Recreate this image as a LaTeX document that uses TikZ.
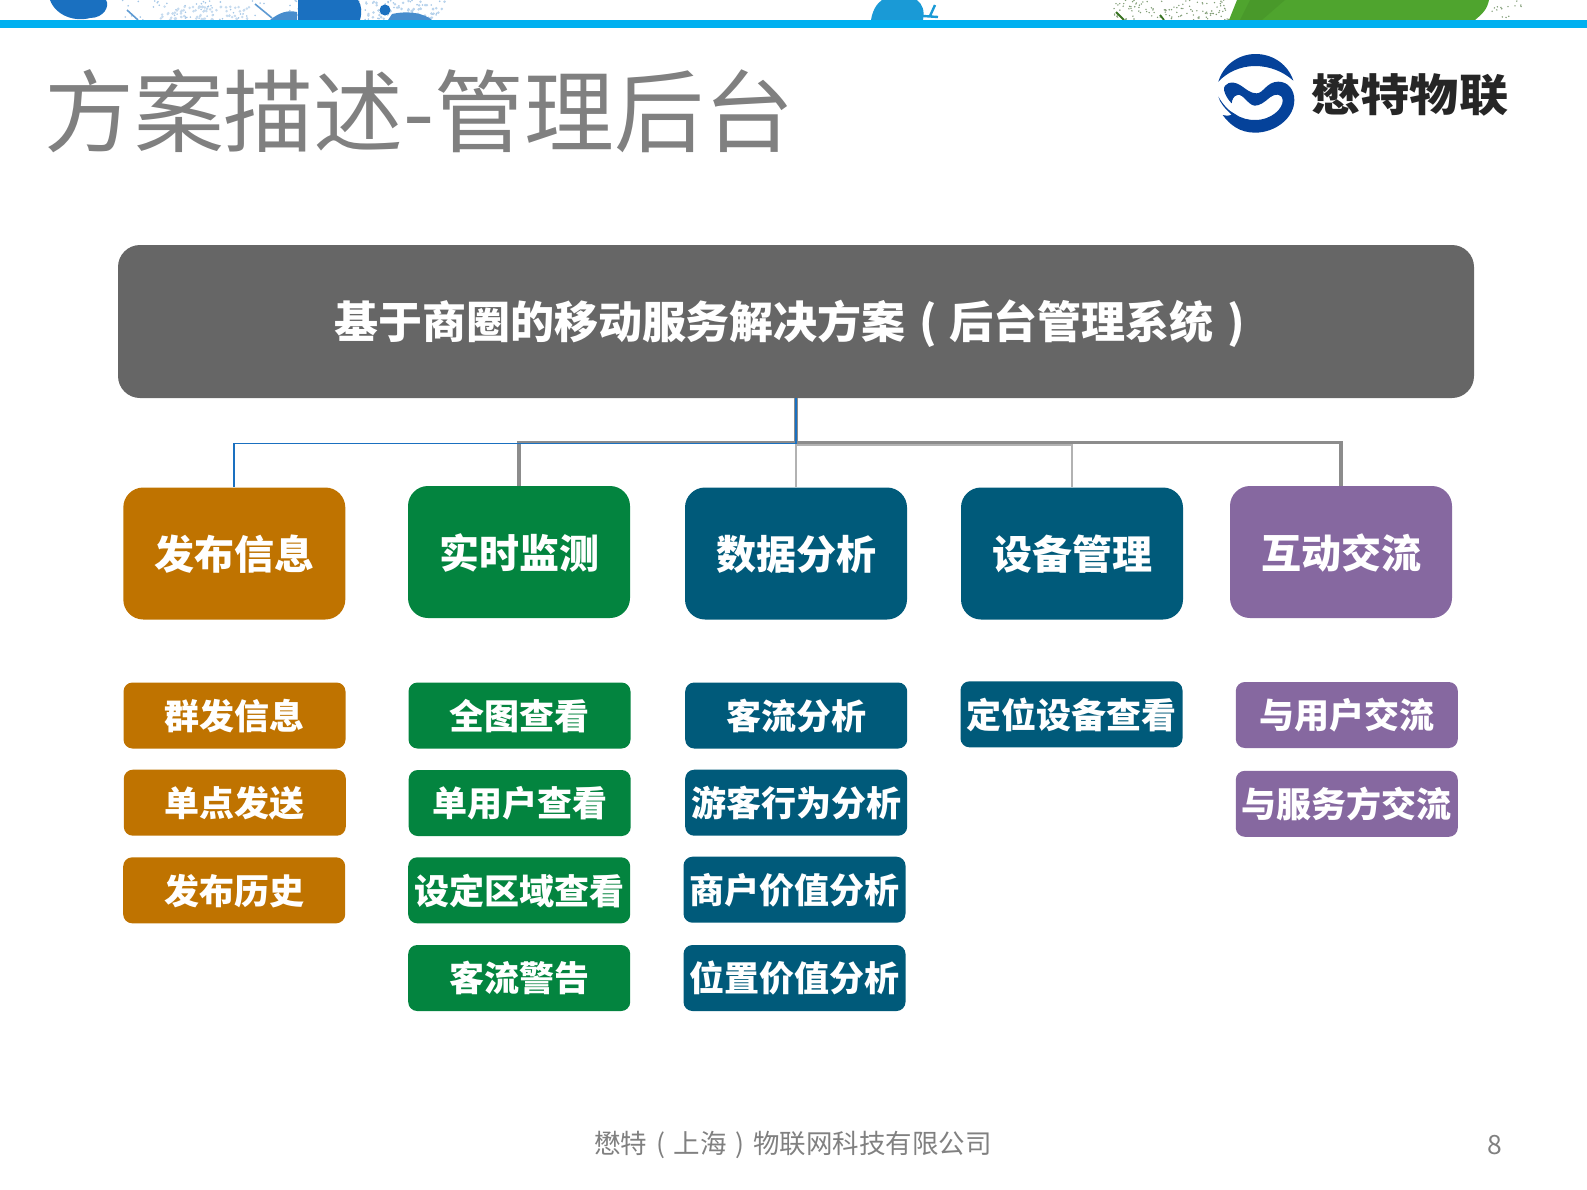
\documentclass[tikz,border=0pt]{standalone}
\usepackage{fontspec}
\setmainfont{Noto Sans CJK SC}
\usepackage{tikz}
\definecolor{barblue}{HTML}{00B0F0}
\definecolor{inkblue}{HTML}{1A70C0}
\definecolor{skyblue}{HTML}{1A9AD6}
\definecolor{leafgreen}{HTML}{4FA42E}
\definecolor{logoblue}{HTML}{05429A}
\definecolor{rootgrey}{HTML}{666666}
\definecolor{boxorange}{HTML}{BF7300}
\definecolor{boxgreen}{HTML}{03843F}
\definecolor{boxteal}{HTML}{005A7A}
\definecolor{boxpurple}{HTML}{8668A0}
\newcommand{\lparen}{\makebox[1em][c]{(}}
\newcommand{\rparen}{\makebox[1em][c]{)}}
\tikzset{
  rootbox/.style={fill=rootgrey,rounded corners=11pt,minimum width=678pt,minimum height=76.5pt,inner sep=0pt,text=white,text height=19.4pt,text depth=2.6pt,font=\bfseries\fontsize{22}{26}\selectfont},
  mainbox/.style={fill=#1,rounded corners=10pt,minimum width=111pt,minimum height=66pt,inner sep=0pt,text=white,text height=18.4pt,text depth=2.4pt,font=\bfseries\fontsize{20}{24}\selectfont},
  subbox/.style={fill=#1,rounded corners=4.5pt,minimum width=111pt,minimum height=33pt,inner sep=0pt,text=white,text height=16pt,text depth=2.1pt,font=\bfseries\fontsize{17.5}{21}\selectfont},
  bluelink/.style={draw=inkblue,line width=.9pt},
  thicklink/.style={draw=black!45,line width=1.7pt},
  thinlink/.style={draw=black!30,line width=.65pt},
}
\begin{document}
\begin{tikzpicture}[x=.5pt,y=-.5pt]
  \useasboundingbox (0,0) rectangle (1587,1190);
  % paint at the top edge
  \pgfmathsetseed{17}
  \foreach \i in {1,...,120}{
    \pgfmathsetmacro{\dotx}{120+rnd*320}
    \pgfmathsetmacro{\doty}{rnd*20}
    \fill[inkblue!40] (\dotx,\doty) circle (.9);
  }
  \foreach \i in {1,...,70}{
    \pgfmathsetmacro{\dotx}{160+rnd*90}
    \pgfmathsetmacro{\doty}{6+rnd*14}
    \fill[inkblue!25] (\dotx,\doty) circle (1.4);
  }
  \foreach \i in {1,...,60}{
    \pgfmathsetmacro{\dotx}{365+rnd*80}
    \pgfmathsetmacro{\doty}{rnd*20}
    \fill[inkblue!30] (\dotx,\doty) circle (1.4);
  }
  \foreach \i in {1,...,110}{
    \pgfmathsetmacro{\dotx}{1110+rnd*120}
    \pgfmathsetmacro{\doty}{rnd*20}
    \fill[leafgreen!55!black!60] (\dotx,\doty) circle (.8);
  }
  \foreach \i in {1,...,14}{
    \pgfmathsetmacro{\dotx}{1490+rnd*32}
    \pgfmathsetmacro{\doty}{rnd*20}
    \fill[leafgreen!55!black!60] (\dotx,\doty) circle (.8);
  }
  \fill[inkblue] (50,0) .. controls (56,16) and (75,22) .. (90,18) .. controls (104,18) and (110,6) .. (106,0) -- cycle;
  \fill[inkblue] (298,0) -- (298,20) -- (360,20) .. controls (362,12) and (362,6) .. (358,0) -- cycle;
  \fill[inkblue] (385,10) circle (5.5);
  \fill[inkblue!80] (392,14) .. controls (410,10) and (425,14) .. (432,20) -- (388,20) -- cycle;
  \fill[inkblue!80] (270,20) .. controls (280,12) and (288,10) .. (297,12) -- (297,20) -- cycle;
  \draw[inkblue!70,line width=.8pt] (127,10) -- (138,20);
  \draw[inkblue!70,line width=.8pt] (255,4) -- (272,18);
  \fill[skyblue] (871,20) .. controls (873,8) and (878,3) .. (882,0) -- (917,0) .. controls (922,4) and (925,10) .. (923,20) -- cycle;
  \draw[skyblue,line width=1.2pt] (923,16) -- (938,17) (930,16) -- (935,5);
  \fill[leafgreen] (1237,0) -- (1229,20) -- (1475,20) .. controls (1482,14) and (1487,10) .. (1489,0) -- cycle;
  \fill[leafgreen!75!black,opacity=.25] (1250,0) -- (1240,20) -- (1262,20) -- (1285,0) -- cycle;
  \draw[leafgreen!70!black,line width=.9pt] (1116,12) -- (1124,20) (1160,15) -- (1164,20);
  \fill[barblue] (0,20) rectangle (1587,28);
  % heading
  \node[anchor=west,inner sep=0pt,text=black!50,font=\fontsize{44.9}{52}\selectfont] (title) at (44,111) {方案描述-管理后台};
  % logo
  \begin{scope}[shift={(1200,40)},scale=1/3]
    \fill[logoblue] (55,125) .. controls (70,75) and (115,42) .. (167,42) .. controls (220,42) and (265,75) .. (280,122) .. controls (250,95) and (210,78) .. (165,78) .. controls (120,78) and (80,98) .. (55,125) -- cycle;
    \fill[logoblue] (72,150) .. controls (70,130) and (95,120) .. (120,135) .. controls (140,148) and (150,160) .. (170,160) .. controls (190,160) and (200,125) .. (235,125) .. controls (265,125) and (283,150) .. (283,180) .. controls (283,235) and (225,278) .. (165,278) .. controls (120,278) and (90,255) .. (68,225) .. controls (75,228) and (85,228) .. (95,224) .. controls (75,205) and (60,190) .. (55,170) .. controls (70,195) and (85,212) .. (105,222) .. controls (125,236) and (145,240) .. (165,240) .. controls (215,240) and (250,205) .. (248,180) .. controls (246,160) and (225,160) .. (210,172) .. controls (195,185) and (180,197) .. (165,197) .. controls (145,197) and (130,160) .. (112,165) .. controls (100,168) and (96,180) .. (95,190) .. controls (85,180) and (75,165) .. (72,150) -- cycle;
  \end{scope}
  \node[anchor=west,inner sep=0pt,yscale=.9,text=black!85,font=\bfseries\fontsize{24.6}{30}\selectfont] (brand) at (1311,95) {懋特物联};
  % root and first level
  \node[rootbox] (root) at (796,321.5) {基于商圈的移动服务解决方案\lparen 后台管理系统\rparen};
  \node[mainbox=boxorange] (publish) at (234.3,553.5) {发布信息};
  \node[mainbox=boxgreen] (watch) at (519,552) {实时监测};
  \node[mainbox=boxteal] (data) at (796,553.5) {数据分析};
  \node[mainbox=boxteal] (device) at (1072,553.5) {设备管理};
  \node[mainbox=boxpurple] (talk) at (1341,552) {互动交流};
  % second level
  \node[subbox=boxorange] (p1) at (234.5,715.5) {群发信息};
  \node[subbox=boxorange] (p2) at (234.8,802.7) {单点发送};
  \node[subbox=boxorange] (p3) at (234.2,890.3) {发布历史};
  \node[subbox=boxgreen] (w1) at (519.5,715.5) {全图查看};
  \node[subbox=boxgreen] (w2) at (519.7,803) {单用户查看};
  \node[subbox=boxgreen] (w3) at (519.2,890.3) {设定区域查看};
  \node[subbox=boxgreen] (w4) at (519.2,978) {客流警告};
  \node[subbox=boxteal] (d1) at (796.2,715.5) {客流分析};
  \node[subbox=boxteal] (d2) at (796.2,802.7) {游客行为分析};
  \node[subbox=boxteal] (d3) at (794.5,889.7) {商户价值分析};
  \node[subbox=boxteal] (d4) at (794.5,978) {位置价值分析};
  \node[subbox=boxteal] (e1) at (1071.5,714.3) {定位设备查看};
  \node[subbox=boxpurple] (t1) at (1346.8,715) {与用户交流};
  \node[subbox=boxpurple] (t2) at (1346.8,803.8) {与服务方交流};
  % links
  \draw [thinlink] (root.south) to (data.north);
  \draw [thinlink] (root.south) -- ++(0,46.5) -| (device.north);
  \draw [thicklink] (root.south) -- ++(0,44) -| (watch.north);
  \draw [thicklink] (root.south) -- ++(0,44) -| (talk.north);
  \draw [bluelink] (root.south) -- ++(0,45) -| (publish.north);
  % footer
  \node[text=black!50,inner sep=0pt,font=\fontsize{13.25}{16}\selectfont] (company) at (793,1145) {懋特\lparen 上海\rparen 物联网科技有限公司};
  \node[text=black!50,inner sep=0pt,font=\fontsize{13.25}{16}\selectfont] (page) at (1495,1145) {8};
\end{tikzpicture}
\end{document}
